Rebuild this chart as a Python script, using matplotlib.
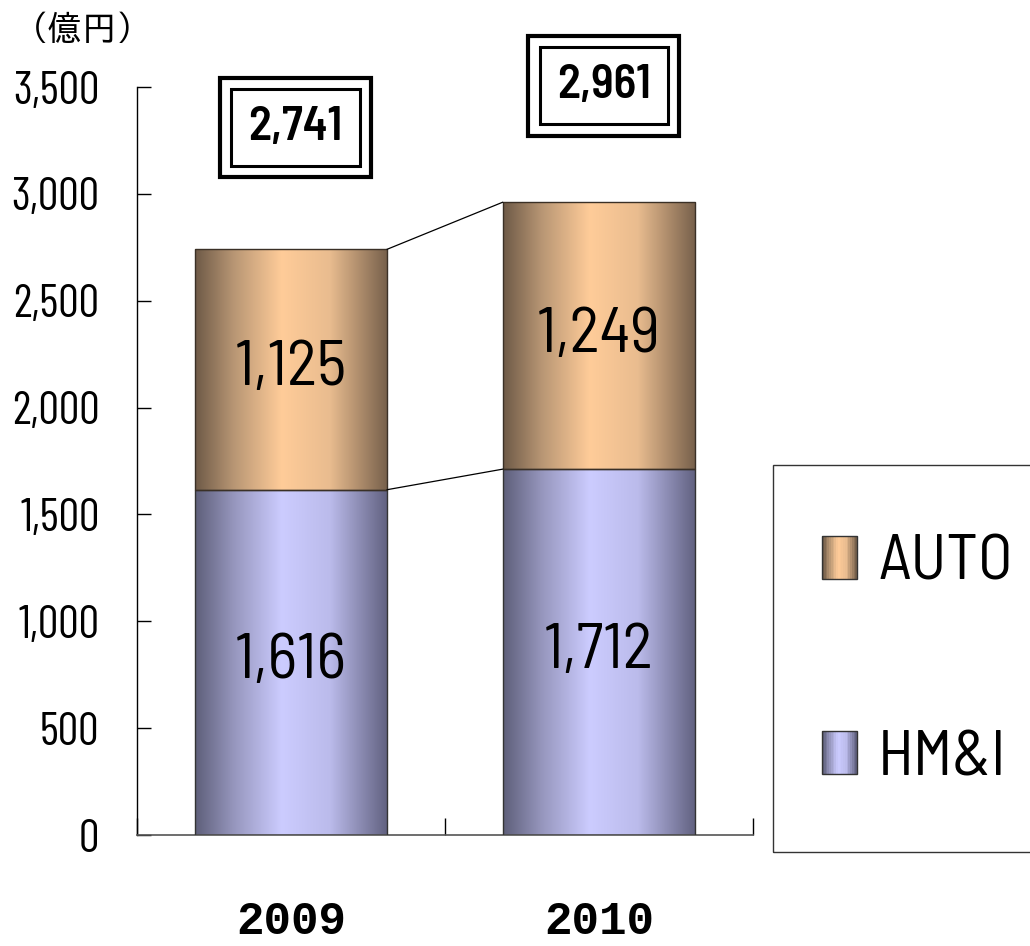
import numpy as np
import matplotlib
matplotlib.use('Agg')
import matplotlib.pyplot as plt
from matplotlib.colors import LinearSegmentedColormap
from matplotlib.patches import Rectangle
from matplotlib.legend_handler import HandlerBase

# データ
years = ['2009', '2010']
hmi = [1616, 1712]
auto = [1125, 1249]
totals = [2741, 2961]
yticks = [0, 500, 1000, 1500, 2000, 2500, 3000, 3500]

NARROW = ['Barlow Condensed', 'DejaVu Sans']
SEMI = ['Barlow Semi Condensed', 'DejaVu Sans']
MONO_B = ['Liberation Mono', 'DejaVu Sans Mono']
JP = ['IPAPGothic', 'Noto Sans CJK JP', 'DejaVu Sans']
plt.rcParams['font.family'] = NARROW

auto_cmap = LinearSegmentedColormap.from_list(
    'auto', [(0, '#6e5a47'), (0.2, '#b89674'), (0.45, '#ffcc99'), (0.7, '#e9bc8f'), (1, '#76604b')])
hmi_cmap = LinearSegmentedColormap.from_list(
    'hmi', [(0, '#5e5f7a'), (0.2, '#9696bd'), (0.45, '#ccccff'), (0.7, '#bbbbeb'), (1, '#616180')])


class GradientHandler(HandlerBase):
    def __init__(self, cmap):
        super().__init__()
        self.cmap = cmap

    def create_artists(self, legend, orig_handle, xdescent, ydescent, width, height, fontsize, trans):
        n = 20
        arts = []
        for i in range(n):
            r = Rectangle((-xdescent + width * i / n, -ydescent), width / n + 0.3, height,
                          facecolor=self.cmap(i / (n - 1)), edgecolor='none', transform=trans)
            arts.append(r)
        arts.append(Rectangle((-xdescent, -ydescent), width, height, facecolor='none',
                              edgecolor='#333333', lw=1, transform=trans))
        return arts


def draw_gradient(ax, bars, cmap):
    grad = np.linspace(0, 1, 256).reshape(1, -1)
    for b in bars:
        x, y = b.get_xy()
        w, h = b.get_width(), b.get_height()
        im = ax.imshow(grad, extent=[x, x + w, y, y + h], aspect='auto', cmap=cmap,
                       zorder=2, interpolation='bicubic')
        im.set_clip_path(b)


fig = plt.figure(figsize=(10.3, 9.46), dpi=100)
ax = fig.add_axes([0.133, 0.1173, 0.598, 0.7907])

x = np.arange(len(years))
w = 0.625
b1 = ax.bar(x, hmi, w, facecolor='none', edgecolor='#333333', lw=1, zorder=3)
b2 = ax.bar(x, auto, w, bottom=hmi, facecolor='none', edgecolor='#3a3026', lw=1, zorder=3)
draw_gradient(ax, b1, hmi_cmap)
draw_gradient(ax, b2, auto_cmap)

# つなぎ線
for lo, hi in [(hmi, hmi), (totals, totals)]:
    ax.plot([x[0] + w / 2, x[1] - w / 2], [lo[0], hi[1]], color='black', lw=0.9, zorder=3)

for i in range(len(years)):
    ax.text(x[i], hmi[i] / 2, f'{hmi[i]:,}', ha='center', va='center', fontsize=46,
            family=SEMI, zorder=4)
    ax.text(x[i], hmi[i] + auto[i] / 2, f'{auto[i]:,}', ha='center', va='center', fontsize=46,
            family=SEMI, zorder=4)

# 合計ボックス
box_y = [3311, 3505]
for i in range(len(years)):
    ax.text(x[i] + 0.015, box_y[i], f'{totals[i]:,}', ha='center', va='center', fontsize=34,
            fontweight='semibold', family=SEMI, color='none', clip_on=False, zorder=5,
            bbox=dict(boxstyle='square,pad=0.6', fc='white', ec='black', lw=3))
    ax.text(x[i] + 0.015, box_y[i], f'{totals[i]:,}', ha='center', va='center', fontsize=34,
            fontweight='semibold', family=SEMI, clip_on=False, zorder=6,
            bbox=dict(boxstyle='square,pad=0.36', fc='white', ec='black', lw=2.2))

ax.set_xlim(-0.5, 1.5)
ax.set_ylim(0, 3500)
ax.set_yticks(yticks)
ax.set_yticklabels([f'{v:,}' for v in yticks])
ax.tick_params(axis='y', direction='in', length=10, width=1, labelsize=33, pad=27)
ax.set_xticks(x)
ax.set_xticklabels(years, fontsize=33, fontweight='bold', family=MONO_B)
ax.tick_params(axis='x', which='major', length=0, pad=47)
ax.set_xticks([-0.5, 0.5, 1.5], minor=True)
ax.tick_params(axis='x', which='minor', direction='in', length=12, width=1)
for s in ['top', 'right']:
    ax.spines[s].set_visible(False)
ax.spines['left'].set_linewidth(1)
ax.spines['bottom'].set_linewidth(1.2)
ax.spines['bottom'].set_color('#555555')

fig.text(0.08, 0.967, '（億円）', ha='center', va='center', fontsize=25, family=JP)

# 凡例の枠
fig.patches.append(Rectangle((773 / 1030, 1 - 852 / 946), 0.3, (852 - 465) / 946,
                             transform=fig.transFigure, fill=False, ec='#333333', lw=1))
h_auto = Rectangle((0, 0), 1, 1)
h_hmi = Rectangle((0, 0), 1, 1)
leg = fig.legend([h_auto, h_hmi], ['AUTO', 'HM&I'],
                 handler_map={h_auto: GradientHandler(auto_cmap), h_hmi: GradientHandler(hmi_cmap)},
                 loc='upper left', bbox_to_anchor=(822 / 1030, 1 - 535 / 946),
                 prop=dict(family=SEMI, size=46), frameon=False, borderpad=0,
                 handlelength=0.55, handleheight=0.66, handletextpad=0.33, labelspacing=2.15,
                 borderaxespad=0)

fig.savefig('out.png', dpi=100)
